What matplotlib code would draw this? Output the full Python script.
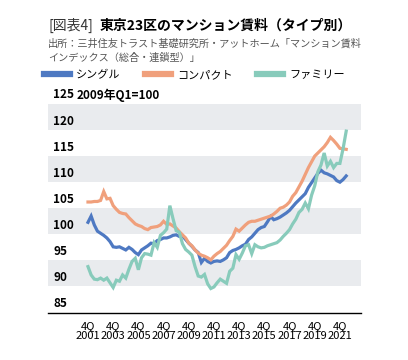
import matplotlib
matplotlib.use("Agg")
import matplotlib.pyplot as plt
from matplotlib.lines import Line2D
from matplotlib.transforms import blended_transform_factory, offset_copy

plt.rcParams['font.family'] = ['Noto Sans CJK JP', 'DejaVu Sans']

# quarterly index, 2001 4Q .. 2022 2Q (2009Q1 = 100)
single = [102.3, 103.5, 101.8, 100.6, 100.2, 99.8, 99.3, 98.6, 97.6, 97.5,
          97.6, 97.3, 97.0, 97.5, 97.1, 96.5, 96.1, 97.0, 97.4, 97.8,
          98.3, 98.2, 98.8, 99.0, 99.3, 99.3, 99.5, 99.8, 99.9, 99.6,
          99.7, 99.0, 98.3, 97.7, 97.0, 96.5, 94.6, 95.4, 94.8, 94.5,
          94.8, 94.9, 94.8, 95.1, 95.5, 96.5, 96.9, 97.1, 97.4, 97.8,
          98.1, 99.0, 99.5, 100.2, 100.9, 101.3, 101.5, 102.4, 103.4, 102.8,
          103.0, 103.3, 103.7, 104.1, 104.6, 105.3, 106.0, 106.6, 107.2, 107.8,
          109.0, 109.9, 110.8, 111.7, 112.3, 111.8, 111.6, 111.3, 111.0, 110.3,
          110.0, 110.5, 111.2]
compact = [106.2, 106.2, 106.3, 106.3, 106.5, 108.2, 106.8, 106.9, 105.5, 104.8,
           104.2, 104.0, 103.9, 103.2, 102.6, 102.0, 101.7, 101.5, 101.1, 100.9,
           101.3, 101.4, 101.5, 101.8, 102.5, 101.9, 102.0, 101.6, 101.2, 100.5,
           99.9, 99.3, 98.3, 97.8, 97.0, 96.4, 96.0, 95.8, 95.5, 95.1,
           95.8, 96.3, 96.7, 97.3, 97.9, 98.8, 99.6, 101.0, 100.6, 101.2,
           101.8, 102.3, 102.5, 102.5, 102.7, 102.9, 103.1, 103.3, 103.5, 103.9,
           104.4, 105.0, 105.2, 105.6, 106.2, 107.3, 108.0, 109.1, 110.2, 111.5,
           112.8, 113.9, 115.0, 115.6, 116.2, 116.8, 117.6, 118.6, 118.0, 117.3,
           116.5, 116.4, 116.3]
family = [93.8, 92.2, 91.4, 91.3, 91.6, 91.2, 91.6, 90.7, 89.8, 91.2,
          91.0, 92.2, 91.6, 93.3, 94.8, 95.4, 93.2, 95.5, 96.3, 96.2,
          96.0, 98.4, 97.5, 99.8, 100.3, 101.0, 105.5, 103.0, 100.7, 100.4,
          98.2, 97.1, 96.6, 96.0, 93.8, 92.0, 91.8, 92.3, 90.5, 89.6,
          89.9, 90.7, 91.4, 91.0, 90.6, 92.9, 93.5, 96.1, 95.2, 96.4,
          97.8, 98.0, 96.3, 98.0, 97.6, 97.4, 97.5, 97.8, 98.0, 98.2,
          98.4, 98.9, 99.6, 100.2, 100.9, 102.0, 102.9, 104.2, 104.8, 106.0,
          104.9, 107.5, 109.3, 112.0, 113.3, 115.6, 113.1, 114.0, 112.8, 113.6,
          113.6, 116.4, 119.8]

series_names = ['シングル', 'コンパクト', 'ファミリー']
series_colors = ['#4e79c2', '#f0a07c', '#88cbbb']
tick_years = ['2001', '2003', '2005', '2007', '2009', '2011',
              '2013', '2015', '2017', '2019', '2021']
y_levels = [85, 90, 95, 100, 105, 110, 115, 120, 125]

fig = plt.figure(figsize=(4.08, 3.6), dpi=100)
ax = fig.add_axes([48 / 408, 1 - 312.5 / 360, 313 / 408, 208.5 / 360])

# grey bands
for lo in [90, 100, 110, 120]:
    ax.axhspan(lo, lo + 5, color='#e9ebee', lw=0, zorder=0)

x = list(range(len(single)))
for vals, col in zip([single, compact, family], series_colors):
    ax.plot(x, vals, color=col, lw=2.3, solid_joinstyle='miter', zorder=3)

ax.set_xlim(-12.7, 86.7)
ax.set_ylim(85, 125)
for s in ['top', 'right', 'left']:
    ax.spines[s].set_visible(False)
ax.spines['bottom'].set_linewidth(1.0)
ax.spines['bottom'].set_color('black')
ax.set_yticks([])
ax.set_xticks([8 * i for i in range(len(tick_years))])
ax.set_xticklabels(['4Q\n' + y for y in tick_years], fontsize=8,
                   family=['Noto Sans CJK JP'], linespacing=1.05)
ax.tick_params(axis='x', length=0, pad=6)

# y labels sitting above their lines
trans = blended_transform_factory(ax.transAxes, ax.transData)
trans = offset_copy(trans, fig=fig, x=0, y=2.5, units='dots')
for v in y_levels:
    ax.text(0.016, v, str(v), transform=trans, fontsize=8.5, fontweight='bold',
            ha='left', va='bottom', clip_on=False)
ax.text(0.092, 125, '2009年Q1=100', transform=trans, fontsize=8.5,
        fontweight='bold', ha='left', va='bottom', clip_on=False)

# title
fig.text(48 / 408, 1 - 30 / 360, '[図表4]', fontsize=10, color='#333333',
         ha='left', va='baseline')
fig.text(100 / 408, 1 - 30 / 360, '東京23区のマンション賃料（タイプ別）',
         fontsize=10, fontweight='bold', ha='left', va='baseline')
fig.text(48 / 408, 1 - 47 / 360,
         '出所：三井住友トラスト基礎研究所・アットホーム「マンション賃料',
         fontsize=7.3, color='#555555', ha='left', va='baseline')
fig.text(48 / 408, 1 - 61 / 360, 'インデックス（総合・連鎖型）」',
         fontsize=7.3, color='#555555', ha='left', va='baseline')

handles = [Line2D([0], [0], color=c, lw=4.5) for c in series_colors]
fig.legend(handles, series_names, loc='center left',
           bbox_to_anchor=(44 / 408, 1 - 75 / 360), ncol=3, frameon=False,
           fontsize=8, handlelength=2.3, handletextpad=0.6, columnspacing=2.2,
           borderaxespad=0, borderpad=0)

fig.savefig('out.png', dpi=100)
